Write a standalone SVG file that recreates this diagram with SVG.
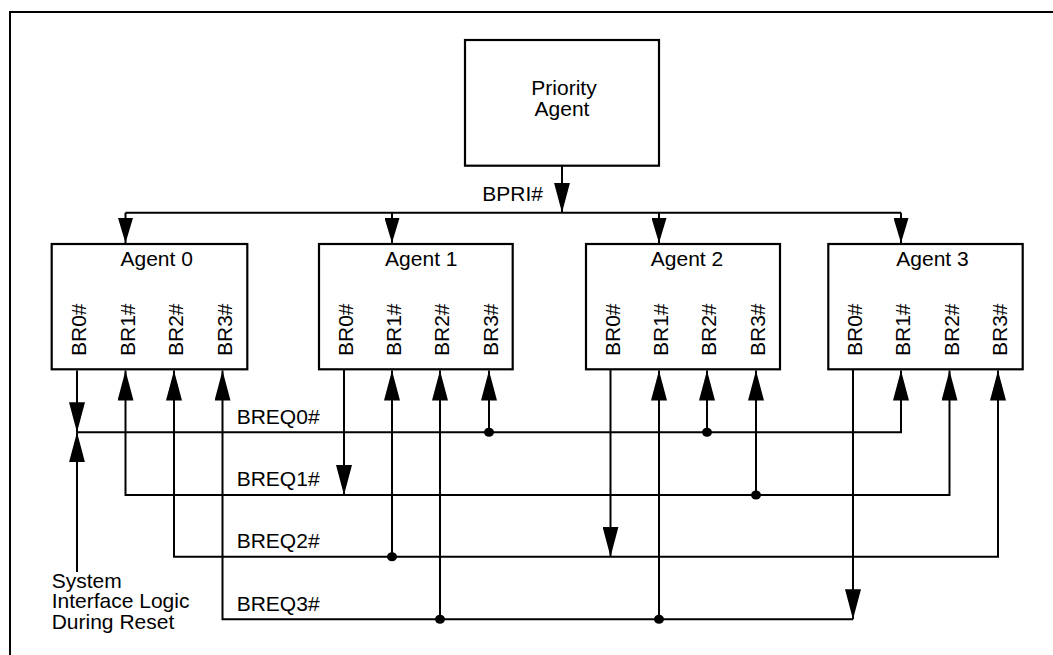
<svg xmlns="http://www.w3.org/2000/svg" width="1053" height="655" viewBox="0 0 1053 655">
<style>
  .t { font-family: "Liberation Sans", Arial, Helvetica, sans-serif; font-size: 21px; fill: #000; }
  .c { text-anchor: middle; }
  .box { fill: #fff; stroke: #000; stroke-width: 2.2; }
  .ln { fill: none; stroke: #000; stroke-width: 2; }
  .dot { fill: #000; }
</style>
<defs>
  <marker id="arr" markerUnits="userSpaceOnUse" viewBox="0 0 30 16" refX="30" refY="8" markerWidth="30" markerHeight="16" orient="auto-start-reverse">
    <path d="M0 0 L30 8 L0 16 Z" fill="#000"/>
  </marker>
  <marker id="arrS" markerUnits="userSpaceOnUse" viewBox="0 0 25 15" refX="25" refY="7.5" markerWidth="25" markerHeight="15" orient="auto-start-reverse">
    <path d="M0 0 L25 7.5 L0 15 Z" fill="#000"/>
  </marker>
</defs>
<rect x="0" y="0" width="1053" height="655" fill="#fff"/>
<path d="M1053 12 H10 V655" class="ln"/>

<g id="priority-agent">
  <rect class="box" x="465" y="40" width="194" height="125.7"/>
  <text class="t c" x="564" y="95">Priority</text>
  <text class="t c" x="562" y="116">Agent</text>
</g>

<g id="agent0">
  <rect class="box" x="51.7" y="244" width="195.6" height="125.3"/>
  <text class="t c" x="156.7" y="266">Agent 0</text>
  <text class="t" transform="translate(86,356) rotate(-90)">BR0#</text>
  <text class="t" transform="translate(134.5,356) rotate(-90)">BR1#</text>
  <text class="t" transform="translate(183,356) rotate(-90)">BR2#</text>
  <text class="t" transform="translate(231.5,356) rotate(-90)">BR3#</text>
</g>

<g id="agent1">
  <rect class="box" x="319" y="244" width="193.7" height="125.3"/>
  <text class="t c" x="421.3" y="266">Agent 1</text>
  <text class="t" transform="translate(353,356) rotate(-90)">BR0#</text>
  <text class="t" transform="translate(401,356) rotate(-90)">BR1#</text>
  <text class="t" transform="translate(449,356) rotate(-90)">BR2#</text>
  <text class="t" transform="translate(498,356) rotate(-90)">BR3#</text>
</g>

<g id="agent2">
  <rect class="box" x="586" y="244" width="194" height="125.3"/>
  <text class="t c" x="687" y="266">Agent 2</text>
  <text class="t" transform="translate(619.5,356) rotate(-90)">BR0#</text>
  <text class="t" transform="translate(668,356) rotate(-90)">BR1#</text>
  <text class="t" transform="translate(716,356) rotate(-90)">BR2#</text>
  <text class="t" transform="translate(765,356) rotate(-90)">BR3#</text>
</g>

<g id="agent3">
  <rect class="box" x="828.3" y="244" width="194.4" height="125.3"/>
  <text class="t c" x="932.5" y="266">Agent 3</text>
  <text class="t" transform="translate(862,356) rotate(-90)">BR0#</text>
  <text class="t" transform="translate(910,356) rotate(-90)">BR1#</text>
  <text class="t" transform="translate(958.5,356) rotate(-90)">BR2#</text>
  <text class="t" transform="translate(1007,356) rotate(-90)">BR3#</text>
</g>

<g id="system-interface-logic">
  <text class="t" x="51.7" y="587.7">System<tspan x="51.7" dy="20.6">Interface Logic</tspan><tspan x="51.7" dy="20.7">During Reset</tspan></text>
</g>

<g id="connectors">
  <!-- BPRI# -->
  <path class="ln" d="M562 165.7 V212.7" marker-end="url(#arr)"/>
  <path class="ln" d="M125.5 212.7 H901"/>
  <path class="ln" d="M125.5 212.7 V243" marker-end="url(#arrS)"/>
  <path class="ln" d="M392 212.7 V243" marker-end="url(#arrS)"/>
  <path class="ln" d="M659 212.7 V243" marker-end="url(#arrS)"/>
  <path class="ln" d="M901 212.7 V243" marker-end="url(#arrS)"/>
  <text class="t" x="543" y="201" text-anchor="end">BPRI#</text>

  <!-- BREQ0# -->
  <path class="ln" d="M77 370.5 V432.3" marker-end="url(#arr)"/>
  <path class="ln" d="M77 572 V432.3" marker-end="url(#arr)"/>
  <path class="ln" d="M77 432.3 H901 V370.5" marker-end="url(#arr)"/>
  <path class="ln" d="M489 432.3 V370.5" marker-end="url(#arr)"/>
  <path class="ln" d="M707 432.3 V370.5" marker-end="url(#arr)"/>
  <ellipse class="dot" cx="489" cy="432.3" rx="5" ry="4.5"/>
  <ellipse class="dot" cx="707" cy="432.3" rx="5" ry="4.5"/>
  <text class="t" x="236.7" y="424.3">BREQ0#</text>

  <!-- BREQ1# -->
  <path class="ln" d="M125.5 370.5 V495 H949.5 V370.5" marker-start="url(#arr)" marker-end="url(#arr)"/>
  <path class="ln" d="M344 369.3 V495" marker-end="url(#arr)"/>
  <path class="ln" d="M756 495 V370.5" marker-end="url(#arr)"/>
  <ellipse class="dot" cx="756" cy="495" rx="5" ry="4.5"/>
  <text class="t" x="236.7" y="486">BREQ1#</text>

  <!-- BREQ2# -->
  <path class="ln" d="M174 370.5 V556.7 H998 V370.5" marker-start="url(#arr)" marker-end="url(#arr)"/>
  <path class="ln" d="M392 556.7 V370.5" marker-end="url(#arr)"/>
  <path class="ln" d="M610.5 369.3 V556.7" marker-end="url(#arr)"/>
  <ellipse class="dot" cx="392" cy="556.7" rx="5" ry="4.5"/>
  <text class="t" x="236.7" y="548.3">BREQ2#</text>

  <!-- BREQ3# -->
  <path class="ln" d="M222.5 370.5 V619.3 H853" marker-start="url(#arr)"/>
  <path class="ln" d="M853 369.3 V619.3" marker-end="url(#arr)"/>
  <path class="ln" d="M440 619.3 V370.5" marker-end="url(#arr)"/>
  <path class="ln" d="M659 619.3 V370.5" marker-end="url(#arr)"/>
  <ellipse class="dot" cx="440" cy="619.3" rx="5" ry="4.5"/>
  <ellipse class="dot" cx="659" cy="619.3" rx="5" ry="4.5"/>
  <text class="t" x="236.7" y="610.7">BREQ3#</text>
</g>
</svg>
